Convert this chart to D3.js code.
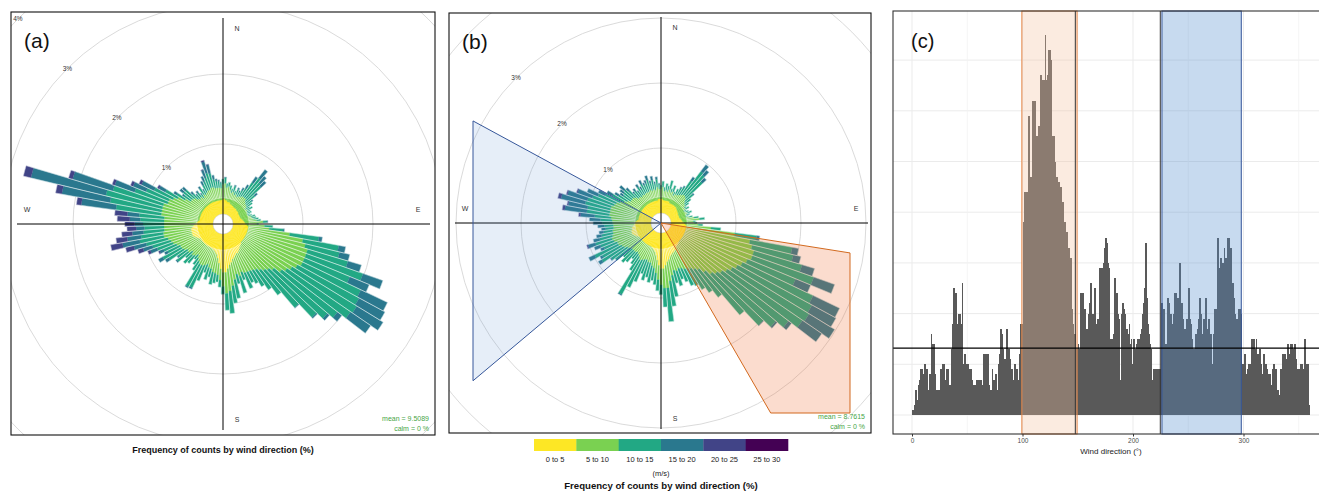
<!DOCTYPE html>
<html>
<head>
<meta charset="utf-8">
<script src="https://cdn.jsdelivr.net/npm/d3@7"></script>
<style>
  body { margin: 0; background: #fff; }
  svg { display: block; }
  text { font-family: "Liberation Sans", Arial, Helvetica, sans-serif; }
</style>
</head>
<body>
<svg id="fig" width="1319" height="491"></svg>
<script>
// ---- data ----
var speedLabels = ["0 to 5", "5 to 10", "10 to 15", "15 to 20", "20 to 25", "25 to 30"];
var speedColors = ["#fde725", "#7ad151", "#22a884", "#2a788e", "#414487", "#440154"];
var dirStep = 3;               // degrees per rose bar
var ringPct = [1, 2, 3, 4];
var meanA = "9.5089", calmA = "0 %";
var meanB = "8.7615", calmB = "0 %";

// frequency (%) per speed class, one entry per direction (0, 3, 6 ... 357)
var roseA = [
  [.22,.2,.08],[.22,.22,.08,.01],[.2,.18,.06],[.2,.2,.06],[.18,.18,.06],[.18,.14,.06],
  [.18,.16,.08,.02],[.16,.14,.06],[.16,.16,.08,.02],[.15,.14,.08,.02],[.15,.16,.1,.04],[.14,.18,.14,.06],
  [.14,.2,.24,.1],[.14,.2,.35,.15],[.14,.2,.3,.12],[.13,.18,.3,.1],[.13,.16,.17,.05],[.13,.15,.1,.02],
  [.13,.14,.1],[.12,.12,.07],[.12,.14,.08],[.12,.12,.05],[.12,.12,.06],[.12,.11,.04],
  [.12,.12,.05],[.13,.14,.06],[.14,.14,.06],[.15,.15,.07],[.16,.18,.06],[.17,.26,.06,.01],
  [.18,.16,.03],[.2,.25,.12],[.22,.3,.2,.02],[.22,.6,.42,.05],[.22,.8,.52,.1],[.22,.85,.5,.15],
  [.22,.9,.6,.2],[.22,.9,.86,.3],[.22,.9,.7,.3],[.22,.9,.92,.42],[.22,.85,1.0,.42],[.22,.8,1.08,.44],
  [.22,.75,1.1,.35],[.22,.7,1.0,.08],[.22,.6,1.0,.04],[.22,.55,.93,.02],[.24,.5,.69,.01],[.25,.45,.44],
  [.26,.4,.34],[.28,.36,.27],[.3,.33,.2],[.32,.3,.17],[.32,.3,.24],[.34,.25,.12],
  [.36,.28,.25],[.38,.22,.14],[.42,.25,.27],[.45,.3,.25],[.5,.32,.32],[.55,.3,.24],
  [.55,.2,.11],[.5,.16,.1],[.42,.17,.1],[.35,.22,.14],[.3,.26,.18],[.28,.24,.12],
  [.26,.25,.18],[.25,.22,.13],[.24,.26,.24],[.24,.28,.35,.02],[.24,.28,.36,.02],[.24,.25,.15],
  [.24,.22,.11],[.24,.18,.08],[.24,.22,.14],[.24,.24,.16],[.24,.2,.13],[.24,.25,.2,.02],
  [.24,.24,.16,.02],[.24,.28,.25,.06],[.26,.28,.3,.07],[.28,.26,.2,.05],[.3,.28,.2,.06,.02],[.32,.3,.24,.1,.04],
  [.32,.32,.27,.14,.08],[.32,.35,.32,.18,.12],[.32,.4,.35,.25,.17],[.32,.4,.32,.2,.16],[.3,.4,.3,.16,.15],[.28,.42,.28,.12,.13],
  [.26,.44,.3,.12,.14],[.24,.46,.34,.15,.18],[.22,.48,.36,.17,.18],[.2,.55,.65,.5,.07],[.2,.55,.75,.7,.09],[.2,.55,.83,1.1,.11],
  [.2,.55,.75,.6,.06],[.2,.5,.5,.3,.04],[.2,.5,.35,.2,.04],[.2,.45,.3,.2,.04],[.2,.4,.2,.1,.03],[.2,.3,.14,.05],
  [.2,.22,.12,.03],[.2,.22,.16,.06],[.2,.2,.17,.06],[.2,.16,.1,.04],[.2,.14,.07,.02],[.2,.15,.08,.03],
  [.2,.12,.06,.02],[.2,.16,.1,.03],[.2,.14,.07,.02],[.2,.16,.12,.06],[.2,.18,.14,.08],[.2,.18,.18,.12,.01],
  [.2,.2,.22,.17,.02],[.2,.2,.2,.13,.01],[.2,.18,.13,.06],[.2,.18,.1,.03],[.2,.18,.09,.02],[.2,.17,.08,.01]
];
var roseB = [
  [.22,.15,.06],[.22,.18,.09],[.2,.14,.06],[.2,.16,.1],[.2,.14,.09],[.2,.18,.14],
  [.2,.14,.06],[.2,.16,.1],[.18,.13,.06],[.18,.16,.09],[.18,.16,.12,.02],[.18,.18,.14,.02],
  [.18,.2,.26,.07],[.18,.22,.45,.13],[.18,.22,.42,.1],[.18,.2,.35,.08],[.17,.17,.16,.02],[.16,.15,.12],
  [.16,.14,.07],[.15,.12,.04],[.15,.13,.06],[.14,.1,.04],[.14,.12,.05],[.14,.14,.07],
  [.14,.12,.05],[.14,.1,.04],[.15,.13,.06],[.16,.2,.07],[.17,.27,.08],[.18,.16,.04],
  [.2,.16,.04],[.22,.2,.07],[.24,.38,.15],[.24,.75,.34,.05],[.24,1.0,.66,.1],[.24,1.05,.65,.12],
  [.24,1.1,.77,.2],[.24,1.1,1.0,.34],[.24,1.05,.8,.25],[.24,1.0,1.2,.45],[.24,.95,1.3,.42],[.24,.9,1.38,.46],
  [.24,.85,1.4,.36],[.24,.8,1.28,.06],[.24,.75,1.18,.03],[.24,.7,1.08,.01],[.25,.6,.86],[.26,.5,.53],
  [.27,.45,.43],[.28,.4,.37],[.3,.35,.3],[.32,.32,.28],[.33,.28,.22],[.34,.25,.18],
  [.36,.26,.24],[.38,.22,.2],[.42,.25,.33],[.45,.3,.39],[.5,.35,.52],[.55,.3,.29],
  [.55,.25,.15],[.5,.22,.17],[.42,.2,.18],[.35,.2,.19],[.3,.22,.26],[.28,.2,.23],
  [.26,.22,.29],[.25,.2,.23],[.24,.22,.37],[.24,.24,.47],[.24,.26,.6,.02],[.24,.22,.25],
  [.24,.2,.18],[.24,.18,.13],[.24,.2,.2],[.24,.2,.25],[.24,.2,.18],[.24,.22,.28],
  [.24,.24,.3,.02],[.24,.28,.4,.06],[.26,.28,.34,.04],[.28,.3,.4,.1],[.3,.28,.22,.06],[.32,.3,.22,.1],
  [.32,.32,.26,.12,.02],[.32,.3,.2,.1],[.3,.3,.18,.08],[.3,.3,.14,.07],[.28,.3,.12,.07],[.26,.32,.14,.1],
  [.25,.34,.16,.14],[.24,.36,.18,.17],[.22,.4,.25,.22,.03],[.2,.45,.35,.34,.04],[.2,.45,.35,.3,.02],[.2,.45,.4,.38,.05],
  [.2,.45,.38,.32,.02],[.2,.42,.35,.24,.02],[.2,.4,.3,.18],[.2,.35,.25,.12],[.2,.3,.2,.1],[.2,.26,.16,.07],
  [.2,.22,.14,.06],[.2,.22,.16,.07],[.2,.22,.18,.09],[.2,.2,.14,.06],[.2,.16,.1,.03],[.2,.16,.12,.04],
  [.2,.14,.1,.02],[.2,.16,.14,.05],[.2,.15,.1,.04],[.2,.16,.16,.06],[.2,.16,.12,.04],[.2,.16,.14,.05],
  [.2,.18,.16,.07],[.2,.16,.12,.04],[.2,.18,.14,.06],[.2,.16,.1,.03],[.22,.18,.12,.04],[.22,.15,.08,.01]
];
var orangeSectorB = [99, 150];   // degrees
var blueSectorB = [230, 298.5];

// counts per 1 degree of wind direction (0..359)
var histCounts = [
  1,1,2,5,3,6,7,9,9,7,  8,10,9,9,5,8,8,16,14,14,
  8,5,5,5,5,9,9,10,10,7,  7,9,9,6,6,13,18,25,18,24,
  18,18,20,20,18,26,10,12,6,10,  10,6,9,9,7,6,6,6,7,7,
  6,7,7,6,12,12,7,12,12,6,  5,5,9,7,7,8,5,5,10,12,
  17,16,13,11,11,17,13,13,11,9,  9,7,10,10,9,7,7,12,18,18,
  38,44,44,44,44,59,47,47,47,62,  62,62,55,55,57,57,67,57,66,66,
  75,66,67,72,72,70,55,55,55,50,  47,47,46,45,45,42,42,38,38,36,
  36,33,31,31,21,18,16,16,13,13,  14,13,24,24,24,21,21,17,17,20,
  22,26,20,20,19,25,18,19,19,29,  29,29,28,30,33,35,34,30,29,15,
  15,15,16,27,24,24,20,19,7,20,  22,21,20,17,17,16,18,14,15,10,
  15,13,13,14,15,15,16,17,20,22,  25,34,23,18,16,14,13,7,9,9,
  9,9,9,9,9,22,22,21,13,14,  14,23,22,20,20,18,20,24,24,23,
  21,23,30,22,22,19,17,17,19,18,  25,19,18,15,13,13,16,16,17,19,
  23,20,16,19,19,23,17,16,19,16,  16,10,16,21,21,21,35,29,29,31,
  30,30,33,31,31,35,35,33,33,26,  26,23,20,19,19,21,21,20,10,10,
  12,12,8,9,10,10,8,15,12,15,  13,15,12,12,13,10,8,8,12,10,
  10,9,8,8,6,6,9,10,9,9,  5,5,4,9,9,12,12,12,11,14,
  14,12,14,14,13,13,14,11,9,9,  9,10,10,9,9,15,10,10,10,2
];
var orangeRange = [99.4, 149.4];
var blueRange = [226.2, 298];
var markLines = [147.8, 224.7];
var refCount = 13.2;
var xTicks = [0, 100, 200, 300];
var xMinor = [50, 150, 250, 350];
var yGrid = [0, 10, 20, 30, 40, 50, 60, 70];

var svg = d3.select("#fig");
var rad = Math.PI / 180;

function rayPoint(cx, cy, deg, t) {
  return [cx + t * Math.sin(deg * rad), cy - t * Math.cos(deg * rad)];
}

// ---- wind rose ----
function drawRose(o, data) {
  var r = d3.scaleLinear().domain([0, 1]).range([10, 10 + o.k]);
  svg.append("clipPath").attr("id", "clip" + o.id)
    .append("rect")
      .attr("x", o.box[0]).attr("y", o.box[1])
      .attr("width", o.box[2] - o.box[0]).attr("height", o.box[3] - o.box[1]);

  var clip = svg.append("g").attr("clip-path", "url(#clip" + o.id + ")");
  var g = clip.append("g").attr("transform", "translate(" + o.cx + "," + o.cy + ")");

  g.selectAll(".ring").data(ringPct).enter().append("circle")
    .attr("r", function(d) { return r(d); })
    .attr("fill", "none").attr("stroke", "#d6d6d6").attr("stroke-width", 0.9);

  // flatten stacks
  var segs = [], bars = [];
  data.forEach(function(stack, i) {
    var lo = 0;
    stack.forEach(function(v, j) {
      segs.push({dir: i * dirStep, lo: lo, hi: lo + v, cls: j});
      lo += v;
    });
    bars.push({dir: i * dirStep, lo: 0, hi: lo});
  });
  var arc = d3.arc()
    .innerRadius(function(d) { return r(d.lo); })
    .outerRadius(function(d) { return r(d.hi); })
    .startAngle(function(d) { return (d.dir - dirStep / 2) * rad; })
    .endAngle(function(d) { return (d.dir + dirStep / 2) * rad; });
  // white separators only away from the centre, where bars are wide enough
  var outline = d3.arc()
    .innerRadius(function(d) { return Math.min(r(d.hi), 26); })
    .outerRadius(function(d) { return r(d.hi); })
    .startAngle(function(d) { return (d.dir - dirStep / 2) * rad; })
    .endAngle(function(d) { return (d.dir + dirStep / 2) * rad; });

  g.selectAll(".seg").data(segs).enter().append("path")
    .attr("d", arc)
    .attr("fill", function(d) { return speedColors[d.cls]; })
    .attr("stroke", function(d) { return speedColors[d.cls]; })
    .attr("stroke-width", 0.25);
  g.selectAll(".bar").data(bars).enter().append("path")
    .attr("d", outline)
    .attr("fill", "none").attr("stroke", "#fff").attr("stroke-width", 0.4)
    .attr("stroke-opacity", 0.9);

  g.append("circle").attr("r", r(0)).attr("fill", "#fff")
    .attr("stroke", "#c8c8c8").attr("stroke-width", 0.5);

  // ring labels along 315 degrees
  g.selectAll(".rl").data(ringPct.slice(0, o.nLabels)).enter().append("text")
    .attr("x", function(d) { return rayPoint(0, 0, 315, r(d))[0]; })
    .attr("y", function(d) { return rayPoint(0, 0, 315, r(d))[1]; })
    .attr("dy", "0.35em")
    .attr("text-anchor", "middle")
    .style("font-size", "6.5px").style("fill", "#333")
    .text(function(d) { return d + "%"; });

  // mean / calm
  svg.append("text").attr("x", o.box[2] - 6).attr("y", o.meanY)
    .attr("text-anchor", "end").style("font-size", "7px").style("fill", "#46a546")
    .text("mean = " + o.mean);
  svg.append("text").attr("x", o.box[2] - 6).attr("y", o.meanY + 10)
    .attr("text-anchor", "end").style("font-size", "7px").style("fill", "#46a546")
    .text("calm = " + o.calm);

  if (o.overlay) o.overlay(clip, r);

  // axes cross
  g.append("line").attr("x1", 0).attr("x2", 0).attr("y1", -206).attr("y2", 206)
    .attr("stroke", "#000").attr("stroke-width", 1);
  g.append("line").attr("x1", -206).attr("x2", 207).attr("y1", 0).attr("y2", 0)
    .attr("stroke", "#000").attr("stroke-width", 1);

  var comp = [["N", 14, -195], ["E", 195, -14], ["S", 14, 196], ["W", -196, -14]];
  g.selectAll(".cp").data(comp).enter().append("text")
    .attr("x", function(d) { return d[1]; }).attr("y", function(d) { return d[2]; })
    .attr("dy", "0.35em").attr("text-anchor", "middle")
    .style("font-size", "7px").style("fill", "#333")
    .text(function(d) { return d[0]; });

  svg.append("text").attr("x", o.box[0] + 13).attr("y", o.box[1] + 36)
    .style("font-size", "21px").style("fill", "#111").text(o.label);

  svg.append("rect")
    .attr("x", o.box[0]).attr("y", o.box[1])
    .attr("width", o.box[2] - o.box[0]).attr("height", o.box[3] - o.box[1])
    .attr("fill", "none").attr("stroke", "#111").attr("stroke-width", 1.1);

  svg.append("text").attr("x", o.cx).attr("y", o.titleY)
    .attr("text-anchor", "middle")
    .style("font-size", o.titleSize).style("font-weight", "bold").style("fill", "#111")
    .text("Frequency of counts by wind direction (%)");
}

drawRose({id: "a", cx: 223, cy: 224, k: 70, box: [11, 12, 435, 435], nLabels: 4,
  label: "(a)", mean: meanA, calm: calmA, meanY: 420.5, titleY: 453, titleSize: "9px"}, roseA);

drawRose({id: "b", cx: 661, cy: 223, k: 65, box: [449, 13, 871, 433], nLabels: 3,
  label: "(b)", mean: meanB, calm: calmB, meanY: 418.5, titleY: 488.5, titleSize: "9.6px",
  overlay: function(layer, r) {
    var cx = 661, cy = 223, xMax = cx + 189, yMax = cy + 190, xMin = cx - 188;
    var a0 = orangeSectorB[0], a1 = orangeSectorB[1];
    var p0 = rayPoint(cx, cy, a0, (xMax - cx) / Math.sin(a0 * rad));
    var p1 = rayPoint(cx, cy, a1, (yMax - cy) / -Math.cos(a1 * rad));
    var orange = [[cx, cy], p0, [xMax, yMax], p1];
    var b0 = blueSectorB[0], b1 = blueSectorB[1];
    var q0 = rayPoint(cx, cy, b0, (cx - xMin) / -Math.sin(b0 * rad));
    var q1 = rayPoint(cx, cy, b1, (cx - xMin) / -Math.sin(b1 * rad));
    var blue = [[cx, cy], q0, q1];
    layer.append("path").attr("d", "M" + blue.join("L") + "Z")
      .attr("fill", "rgb(86,142,206)").attr("fill-opacity", 0.15)
      .attr("stroke", "#36579a").attr("stroke-width", 1);
    layer.append("path").attr("d", "M" + orange.join("L") + "Z")
      .attr("fill", "rgb(240,110,50)").attr("fill-opacity", 0.24)
      .attr("stroke", "#d2691e").attr("stroke-width", 1);
  }}, roseB);

// legend for (b)
var lx = d3.scaleBand().domain(speedLabels).range([534, 788]);
var leg = svg.append("g");
leg.selectAll("rect").data(speedLabels).enter().append("rect")
  .attr("x", function(d) { return lx(d); }).attr("y", 439)
  .attr("width", lx.bandwidth() + 0.3).attr("height", 12)
  .attr("fill", function(d, i) { return speedColors[i]; });
leg.selectAll("text").data(speedLabels).enter().append("text")
  .attr("x", function(d) { return lx(d) + lx.bandwidth() / 2; }).attr("y", 461.5)
  .attr("text-anchor", "middle").style("font-size", "7.5px").style("fill", "#222")
  .text(function(d) { return d; });
leg.append("text").attr("x", 661).attr("y", 476).attr("text-anchor", "middle")
  .style("font-size", "7.5px").style("fill", "#222").text("(m/s)");

// ---- histogram (c) ----
var hx = d3.scaleLinear().domain([0, 360]).range([912, 1309.8]);
var hy = d3.scaleLinear().domain([0, 80]).range([415, 9.4]);
var hc = svg.append("g");
var pTop = 11, pBottom = 434, pLeft = 893, pRight = 1330;

hc.selectAll(".hg").data(yGrid).enter().append("line")
  .attr("x1", pLeft).attr("x2", pRight)
  .attr("y1", function(d) { return hy(d); }).attr("y2", function(d) { return hy(d); })
  .attr("stroke", "#ebebeb").attr("stroke-width", 1);
hc.selectAll(".vm").data(xMinor).enter().append("line")
  .attr("x1", function(d) { return hx(d); }).attr("x2", function(d) { return hx(d); })
  .attr("y1", pTop).attr("y2", pBottom)
  .attr("stroke", "#f2f2f2").attr("stroke-width", 0.8);
hc.selectAll(".vg").data(xTicks).enter().append("line")
  .attr("x1", function(d) { return hx(d); }).attr("x2", function(d) { return hx(d); })
  .attr("y1", pTop).attr("y2", pBottom)
  .attr("stroke", "#ebebeb").attr("stroke-width", 1);

hc.selectAll(".hb").data(histCounts).enter().append("rect")
  .attr("x", function(d, i) { return hx(i); })
  .attr("width", hx(1) - hx(0) + 0.6)
  .attr("y", function(d) { return hy(d); })
  .attr("height", function(d) { return hy(0) - hy(d); })
  .attr("fill", "#595959")
  .attr("shape-rendering", "crispEdges");

hc.append("rect")
  .attr("x", hx(orangeRange[0])).attr("width", hx(orangeRange[1]) - hx(orangeRange[0]))
  .attr("y", pTop).attr("height", pBottom - pTop)
  .attr("fill", "rgb(243,193,160)").attr("fill-opacity", 0.33)
  .attr("stroke", "#e8894a").attr("stroke-width", 1);
hc.append("rect")
  .attr("x", hx(blueRange[0])).attr("width", hx(blueRange[1]) - hx(blueRange[0]))
  .attr("y", pTop).attr("height", pBottom - pTop)
  .attr("fill", "rgb(86,142,206)").attr("fill-opacity", 0.33)
  .attr("stroke", "#36579a").attr("stroke-width", 1);

hc.selectAll(".ml").data(markLines).enter().append("line")
  .attr("x1", function(d) { return hx(d); }).attr("x2", function(d) { return hx(d); })
  .attr("y1", pTop).attr("y2", pBottom)
  .attr("stroke", "#333").attr("stroke-width", 1);

hc.append("line").attr("x1", pLeft).attr("x2", pRight)
  .attr("y1", hy(refCount)).attr("y2", hy(refCount))
  .attr("stroke", "#000").attr("stroke-width", 1.1);

hc.append("rect").attr("x", pLeft).attr("y", pTop)
  .attr("width", pRight - pLeft).attr("height", pBottom - pTop)
  .attr("fill", "none").attr("stroke", "#333").attr("stroke-width", 1.1);

var xAxis = hc.append("g").attr("transform", "translate(0," + pBottom + ")")
  .call(d3.axisBottom(hx).tickValues(xTicks).tickSize(2.5).tickPadding(2));
xAxis.select(".domain").remove();
xAxis.selectAll("line").attr("stroke", "#333");
xAxis.selectAll("text").style("font-size", "6.5px").style("fill", "#4d4d4d")
  .style("font-family", "'Liberation Sans', Arial, sans-serif");

hc.append("text").attr("x", 1111).attr("y", 454).attr("text-anchor", "middle")
  .style("font-size", "8px").style("fill", "#222").text("Wind direction (\u00b0)");
hc.append("text").attr("x", 911).attr("y", 48)
  .style("font-size", "20px").style("fill", "#111").text("(c)");
</script>
</body>
</html>
